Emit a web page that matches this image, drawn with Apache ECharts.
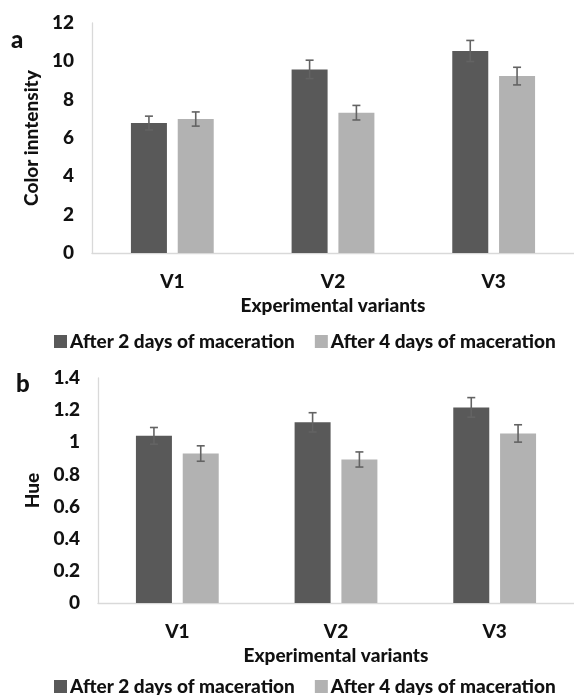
<!DOCTYPE html>
<html>
<head>
<meta charset="utf-8">
<script src="https://cdn.jsdelivr.net/npm/echarts@6/dist/echarts.min.js"></script>
<style>
html,body{margin:0;padding:0;background:#fff;}
#main{width:574px;height:695px;}
</style>
</head>
<body>
<div id="main"></div>
<script>
// ---- data ----
const categories = ['V1', 'V2', 'V3'];
const seriesNames = ['After 2 days of maceration', 'After 4 days of maceration'];
const intensity2 = [6.78, 9.58, 10.54];
const intensity4 = [6.99, 7.32, 9.23];
const intensityErr2 = [0.36, 0.48, 0.55];
const intensityErr4 = [0.37, 0.38, 0.46];
const hue2 = [1.04, 1.124, 1.217];
const hue4 = [0.93, 0.893, 1.055];
const hueErr2 = [0.052, 0.060, 0.061];
const hueErr4 = [0.048, 0.047, 0.054];

// ---- style ----
const FONT = 'Lato';
const FS = 19;
const FW = 900;
const DARK = '#595959';
const LIGHT = '#b2b2b2';
const ERR = '#636363';
const BAR_W = 36;
const BAR_GAP = 0.3;
const OFF = (BAR_W + BAR_W * BAR_GAP) / 2;

const chart = echarts.init(document.getElementById('main'), null, {renderer: 'canvas'});

function errSeries(name, vals, errs, xi, yi, sign) {
  return {
    type: 'custom',
    name: name + ' err',
    xAxisIndex: xi, yAxisIndex: yi,
    z: 5,
    silent: true,
    data: vals.map((v, i) => [i, v, errs[i]]),
    renderItem: function (params, api) {
      const c = api.value(0), v = api.value(1), e = api.value(2);
      const hi = api.coord([c, v + e]);
      const lo = api.coord([c, v - e]);
      const x = hi[0] + sign * OFF;
      const cap = 4;
      const st = {stroke: ERR, lineWidth: 1.6};
      return {
        type: 'group',
        children: [
          {type: 'line', shape: {x1: x, y1: hi[1], x2: x, y2: lo[1]}, style: st},
          {type: 'line', shape: {x1: x - cap, y1: hi[1], x2: x + cap, y2: hi[1]}, style: st},
          {type: 'line', shape: {x1: x - cap, y1: lo[1], x2: x + cap, y2: lo[1]}, style: st}
        ]
      };
    }
  };
}

const txt = {fontFamily: FONT, fontWeight: FW, fontSize: FS, color: '#111'};

function xAxis(gi) {
  return {
    type: 'category', gridIndex: gi, data: categories,
    axisLine: {lineStyle: {color: '#d9d9d9', width: 1.3}},
    axisTick: {show: false},
    axisLabel: Object.assign({margin: 19}, txt),
    name: 'Experimental variants',
    nameLocation: 'middle', nameGap: 43,
    nameTextStyle: txt
  };
}
function yAxis(gi, max, interval, name, gap) {
  return {
    type: 'value', gridIndex: gi, min: 0, max: max, interval: interval,
    axisLine: {show: true, lineStyle: {color: '#d9d9d9', width: 1.3}},
    axisTick: {show: false},
    splitLine: {show: false},
    axisLabel: Object.assign({margin: 18}, txt),
    name: name, nameLocation: 'middle', nameGap: gap, nameRotate: 90,
    nameTextStyle: txt
  };
}

const legendBase = {
  data: seriesNames, icon: 'rect', itemWidth: 13, itemHeight: 13, itemGap: 20,
  textStyle: Object.assign({padding: [0, 0, 0, -2]}, txt),
  selectedMode: false
};

const option = {
  animation: false,
  color: [DARK, LIGHT],
  grid: [
    {left: 92, top: 23, width: 491, height: 230},
    {left: 98, top: 378, width: 487, height: 225}
  ],
  xAxis: [xAxis(0), xAxis(1)],
  yAxis: [yAxis(0, 12, 2, 'Color inntensity', 45), yAxis(1, 1.4, 0.2, 'Hue', 56)],
  legend: [
    Object.assign({left: 49, top: 327}, legendBase),
    Object.assign({left: 49, top: 672}, legendBase)
  ],
  graphic: [
    {type: 'text', left: 11, top: 28, style: {text: 'a', fill: '#111', font: '900 24px ' + FONT}},
    {type: 'text', left: 16, top: 372, style: {text: 'b', fill: '#111', font: '900 24px ' + FONT}}
  ],
  series: [
    {type: 'bar', name: seriesNames[0], xAxisIndex: 0, yAxisIndex: 0, data: intensity2, barWidth: BAR_W, barGap: '30%', itemStyle: {color: DARK}},
    {type: 'bar', name: seriesNames[1], xAxisIndex: 0, yAxisIndex: 0, data: intensity4, barWidth: BAR_W, barGap: '30%', itemStyle: {color: LIGHT}},
    {type: 'bar', name: seriesNames[0], xAxisIndex: 1, yAxisIndex: 1, data: hue2, barWidth: BAR_W, barGap: '30%', itemStyle: {color: DARK}},
    {type: 'bar', name: seriesNames[1], xAxisIndex: 1, yAxisIndex: 1, data: hue4, barWidth: BAR_W, barGap: '30%', itemStyle: {color: LIGHT}},
    errSeries('i2', intensity2, intensityErr2, 0, 0, -1),
    errSeries('i4', intensity4, intensityErr4, 0, 0, 1),
    errSeries('h2', hue2, hueErr2, 1, 1, -1),
    errSeries('h4', hue4, hueErr4, 1, 1, 1)
  ]
};
chart.setOption(option);
</script>
</body>
</html>
